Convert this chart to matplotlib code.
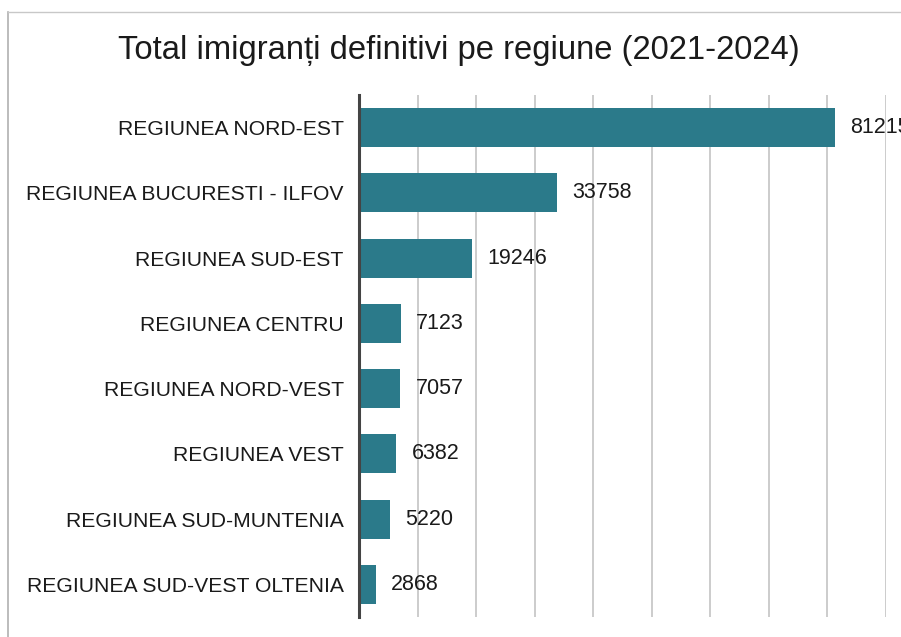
import matplotlib
matplotlib.use("Agg")
import matplotlib.pyplot as plt
from matplotlib.lines import Line2D

plt.rcParams['font.family'] = ['Liberation Sans', 'DejaVu Sans']

regions = ["REGIUNEA NORD-EST", "REGIUNEA BUCURESTI - ILFOV", "REGIUNEA SUD-EST",
           "REGIUNEA CENTRU", "REGIUNEA NORD-VEST", "REGIUNEA VEST",
           "REGIUNEA SUD-MUNTENIA", "REGIUNEA SUD-VEST OLTENIA"]
values = [81215, 33758, 19246, 7123, 7057, 6382, 5220, 2868]
title = "Total imigranți definitivi pe regiune (2021-2024)"

W, H = 901, 637
fig = plt.figure(figsize=(W / 100, H / 100), dpi=100)
ax = fig.add_axes([359 / W, 1 - 617 / H, (886 - 359) / W, (617 - 95) / H])

ypos = list(range(len(regions)))
ax.barh(ypos, values, height=0.6, color="#2B7A8A", zorder=3)
ax.set_ylim(len(regions) - 0.5, -0.5)
ax.set_xlim(0, 90000)
ax.set_xticks(range(10000, 90001, 10000))
ax.grid(axis="x", color="#c4c4c4", linewidth=1.2, zorder=0)
ax.tick_params(axis="x", length=0, labelbottom=False)
ax.tick_params(axis="y", length=0, pad=11, labelsize=15.2)
ax.set_yticks(ypos)
ax.set_yticklabels(regions, color="#1a1a1a")
for s in ["top", "right", "bottom"]:
    ax.spines[s].set_visible(False)
ax.spines["left"].set_color("#444444")
ax.spines["left"].set_linewidth(2.2)
ax.spines["left"].set_zorder(4)

for y, v in zip(ypos, values):
    ax.annotate(str(v), (v, y), xytext=(11, 0), textcoords="offset points",
                va="center", ha="left", fontsize=15.5, color="#1a1a1a",
                annotation_clip=False, zorder=5)

fig.text(459 / W, 1 - 51 / H, title, ha="center", va="center", fontsize=23.6, color="#1a1a1a")

# scanned frame edges
fig.add_artist(Line2D([8 / W, 8 / W], [0, 1 - 12 / H], transform=fig.transFigure,
                      color="#b0b0b0", linewidth=1.2))
fig.add_artist(Line2D([8 / W, 1], [1 - 12 / H, 1 - 12 / H], transform=fig.transFigure,
                      color="#c8c8c8", linewidth=1.0))

fig.savefig("out.png", dpi=100)
